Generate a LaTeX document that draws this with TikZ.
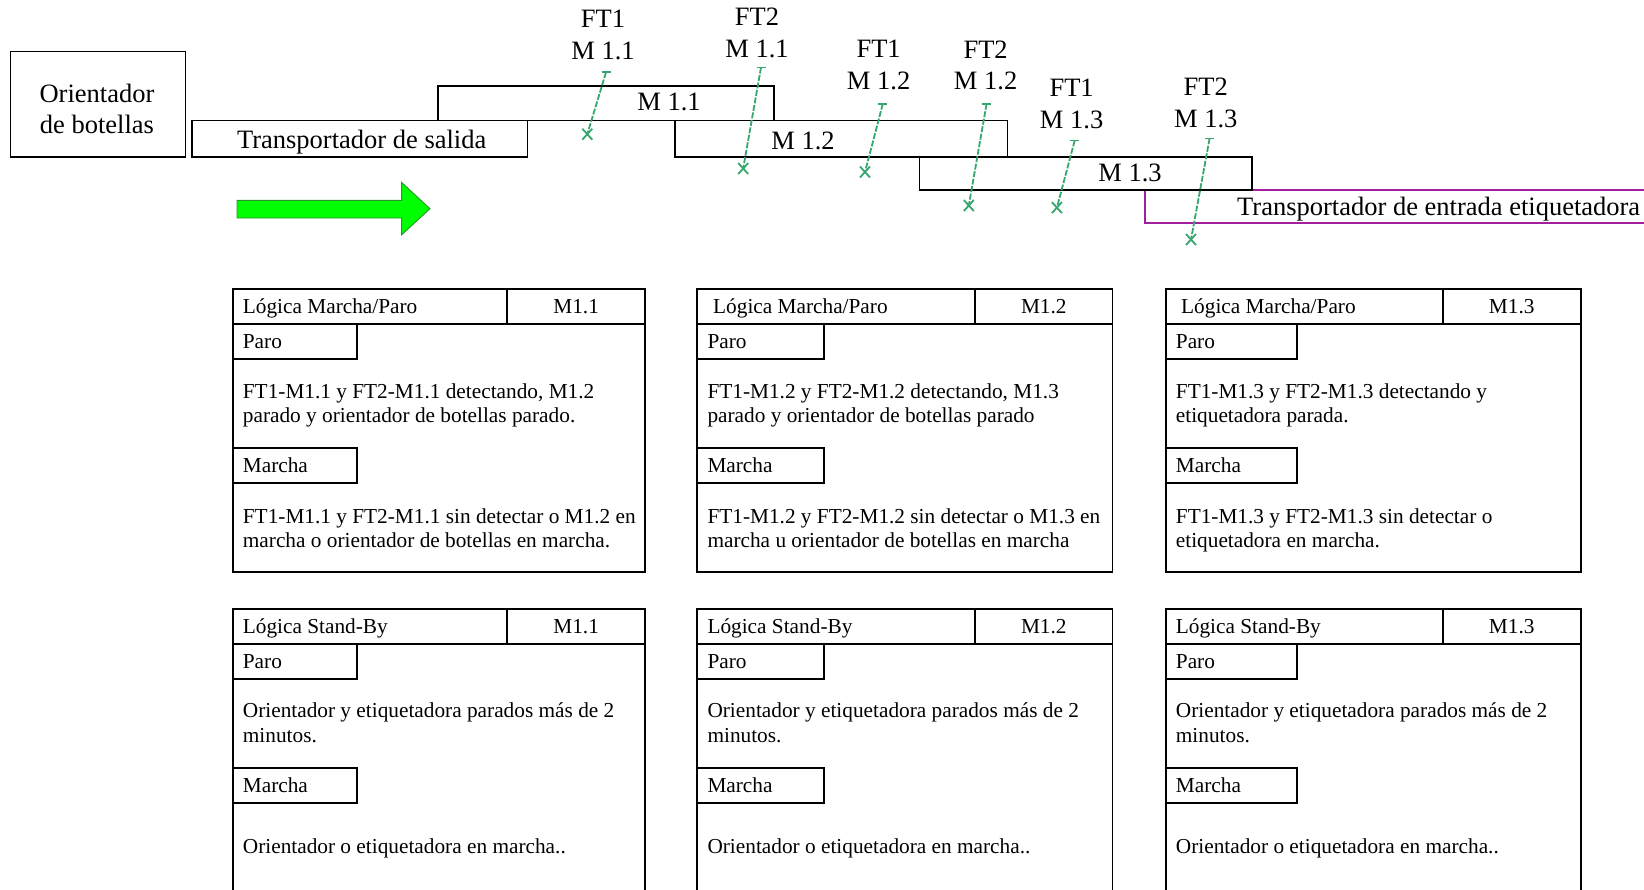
\documentclass[tikz,border=0pt]{standalone}
\usepackage{fontspec}
\setmainfont{Liberation Serif}

\definecolor{sensorgreen}{RGB}{55,165,110}
\definecolor{conveyorpurple}{RGB}{160,32,160}
\definecolor{flowgreen}{RGB}{0,255,0}
\definecolor{flowedge}{RGB}{40,150,40}

\tikzset{
  big/.style={font=\fontsize{26.5}{31.5}\selectfont, inner sep=0pt},
  txt/.style={font=\fontsize{21.3}{24}\selectfont, inner sep=0pt},
  unitbox/.style={draw=black, line width=1.7pt},
  frame/.style={draw=black, line width=1.8pt},
  sensor/.style={draw=sensorgreen, line width=1.8pt, dash pattern=on 6pt off 1.6pt},
  sensortip/.style={draw=sensorgreen, line width=1.8pt},
}

% frame of a logic table: #1 name, #2 width, #3 divider, #4 tab width,
% #5 title indent, #6 title, #7 motor id
\newcommand\logicframe[7]{%
  \draw[frame] (0,0) rectangle (#2,282.4);
  \draw[frame] (0,35) -- (#2,35) (#3,0) -- (#3,35);
  \draw[frame] (0,35) rectangle (#4,70) (0,159) rectangle (#4,194);
  \node[txt, anchor=base west] (#1-title) at (#5,24) {#6};
  \node[txt, anchor=base] (#1-id) at ({(#3+#2)/2},24) {#7};
  \node[txt, anchor=base west] (#1-paro) at (10,59.5) {Paro};
  \node[txt, anchor=base west] (#1-marcha) at (10,183) {Marcha};
}

% photocell: #1 name, #2 emitter end, #3 target end
\newcommand\photocell[3]{%
  \coordinate (#1t) at (#2);
  \coordinate (#1b) at (#3);
  \draw[sensor] (#1t) -- (#1b);
  \draw[sensortip] (#1t) +(-4.5,0) -- +(4.5,0);
  \draw[sensortip] (#1b) +(-5,-5.5) -- +(5,5.5) +(-5,5.5) -- +(5,-5.5);
}

\begin{document}
\begin{tikzpicture}[x=1pt,y=-1pt]
\useasboundingbox (0,0) rectangle (1644,889);

% ---- conveyor line ----
\draw[conveyorpurple, line width=1.7pt] (1660,189.8) -- (1145,189.8) -- (1145,223.3) -- (1660,223.3);
\node[big, anchor=base west] (entrada) at (1237,215) {Transportador de entrada etiquetadora};

\draw[unitbox] (10.5,51.4) rectangle (185.6,157.3);
\node[big, align=center] (orient) at (97,109) {Orientador\\de botellas};

\draw[unitbox] (192,120.6) rectangle (527.4,157.3);
\node[big, anchor=base] (salida) at (361.7,148) {Transportador de salida};

\draw[unitbox] (438.3,86) rectangle (773.8,120.6);
\node[big, anchor=base] (m11) at (669,110.3) {M 1.1};

\draw[unitbox] (675.2,120.6) rectangle (1007.6,157.3);
\node[big, anchor=base] (m12) at (803,149.1) {M 1.2};

\draw[unitbox] (919.5,157.3) rectangle (1252,189.8);
\node[big, anchor=base] (m13) at (1130,181.6) {M 1.3};

% flow direction
\draw[flowedge, fill=flowgreen, line width=0.9pt, line join=miter]
  (237,200.3) -- (401.6,200.3) -- (401.6,182.4) -- (430,208.7)
  -- (401.6,234.9) -- (401.6,218) -- (237,218) -- cycle;

% ---- photocells ----
\node[big, align=center, anchor=north] (l1) at (603,9.9) {FT1\\M 1.1};
\node[big, align=center, anchor=north] (l2) at (757,7.8) {FT2\\M 1.1};
\node[big, align=center, anchor=north] (l3) at (878.6,40.3) {FT1\\M 1.2};
\node[big, align=center, anchor=north] (l4) at (985.6,40.3) {FT2\\M 1.2};
\node[big, align=center, anchor=north] (l5) at (1071.6,79) {FT1\\M 1.3};
\node[big, align=center, anchor=north] (l6) at (1205.8,78) {FT2\\M 1.3};

\photocell{s1}{606,72.3}{587.3,134.2}
\photocell{s2}{761,67.5}{743.2,168.5}
\photocell{s3}{882.8,103.8}{865,172}
\photocell{s4}{986.6,103.8}{968.8,205.5}
\photocell{s5}{1074.7,140.5}{1056.9,207.6}
\photocell{s6}{1209.6,138.4}{1191,239.5}

% ---- start/stop logic ----
\begin{scope}[shift={(232.7,289.3)}]
  \logicframe{a1}{412.3}{274.6}{124}{10}{Lógica Marcha/Paro}{M1.1}
  \node[txt, anchor=base west] (a1p1) at (10,109) {FT1-M1.1 y FT2-M1.1 detectando, M1.2};
  \node[txt, anchor=base west] (a1p2) at (10,133) {parado y orientador de botellas parado.};
  \node[txt, anchor=base west] (a1m1) at (10,234) {FT1-M1.1 y FT2-M1.1 sin detectar o M1.2 en};
  \node[txt, anchor=base west] (a1m2) at (10,258) {marcha o orientador de botellas en marcha.};
\end{scope}

\begin{scope}[shift={(697.3,289.3)}]
  \logicframe{a2}{415.2}{277.8}{127}{15.7}{Lógica Marcha/Paro}{M1.2}
  \node[txt, anchor=base west] (a2p1) at (10,109) {FT1-M1.2 y FT2-M1.2 detectando, M1.3};
  \node[txt, anchor=base west] (a2p2) at (10,133) {parado y orientador de botellas parado};
  \node[txt, anchor=base west] (a2m1) at (10,234) {FT1-M1.2 y FT2-M1.2 sin detectar o M1.3 en};
  \node[txt, anchor=base west] (a2m2) at (10,258) {marcha u orientador de botellas en marcha};
\end{scope}

\begin{scope}[shift={(1165.7,289.3)}]
  \logicframe{a3}{415}{277}{131}{15.3}{Lógica Marcha/Paro}{M1.3}
  \node[txt, anchor=base west] (a3p1) at (10,109) {FT1-M1.3 y FT2-M1.3 detectando y};
  \node[txt, anchor=base west] (a3p2) at (10,133) {etiquetadora parada.};
  \node[txt, anchor=base west] (a3m1) at (10,234) {FT1-M1.3 y FT2-M1.3 sin detectar o};
  \node[txt, anchor=base west] (a3m2) at (10,258) {etiquetadora en marcha.};
\end{scope}

% ---- stand-by logic ----
\begin{scope}[shift={(232.7,609.3)}]
  \logicframe{b1}{412.3}{274.6}{124}{10}{Lógica Stand-By}{M1.1}
  \node[txt, anchor=base west] (b1p1) at (10,108) {Orientador y etiquetadora parados más de 2};
  \node[txt, anchor=base west] (b1p2) at (10,133) {minutos.};
  \node[txt, anchor=base west] (b1m1) at (10,244) {Orientador o etiquetadora en marcha..};
\end{scope}

\begin{scope}[shift={(697.3,609.3)}]
  \logicframe{b2}{415.2}{277.8}{127}{10}{Lógica Stand-By}{M1.2}
  \node[txt, anchor=base west] (b2p1) at (10,108) {Orientador y etiquetadora parados más de 2};
  \node[txt, anchor=base west] (b2p2) at (10,133) {minutos.};
  \node[txt, anchor=base west] (b2m1) at (10,244) {Orientador o etiquetadora en marcha..};
\end{scope}

\begin{scope}[shift={(1165.7,609.3)}]
  \logicframe{b3}{415}{277}{131}{10}{Lógica Stand-By}{M1.3}
  \node[txt, anchor=base west] (b3p1) at (10,108) {Orientador y etiquetadora parados más de 2};
  \node[txt, anchor=base west] (b3p2) at (10,133) {minutos.};
  \node[txt, anchor=base west] (b3m1) at (10,244) {Orientador o etiquetadora en marcha..};
\end{scope}
\end{tikzpicture}
\end{document}
